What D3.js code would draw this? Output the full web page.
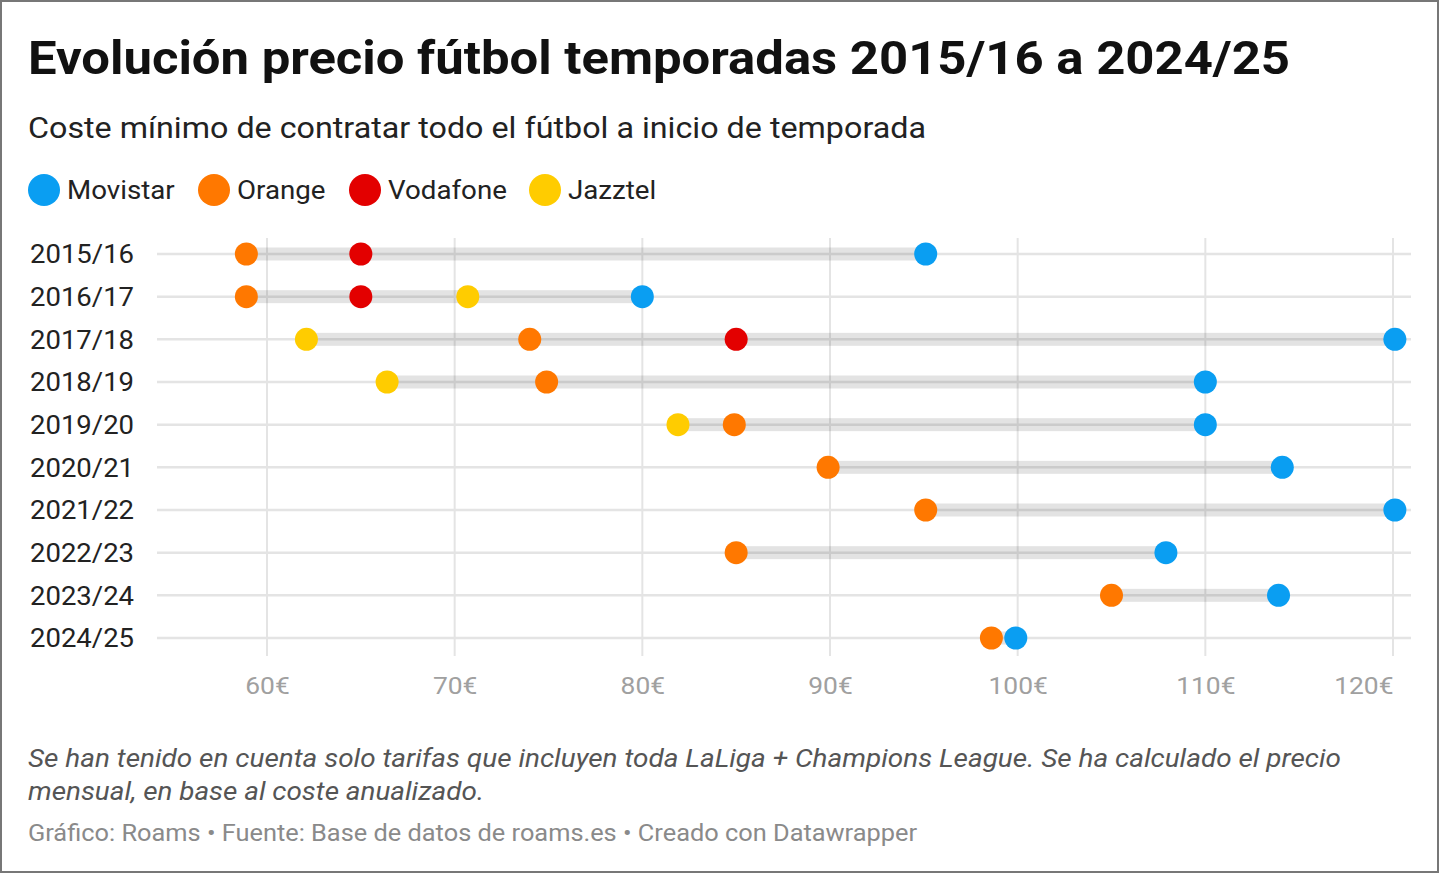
<!DOCTYPE html>
<html><head><meta charset="utf-8">
<script src="https://cdn.jsdelivr.net/npm/d3@7"></script>
<style>
html,body{margin:0;padding:0;background:#fff;}
svg{display:block;font-family:Roboto,"Noto Sans",sans-serif;}
</style></head>
<body>
<svg id="chart" width="1440" height="873"></svg>
<script>
const seasons = ["2015/16","2016/17","2017/18","2018/19","2019/20","2020/21","2021/22","2022/23","2023/24","2024/25"];
const movistar = [95.1, 80.0, 120.1, 110.0, 110.0, 114.1, 120.1, 107.9, 113.9, 99.9];
const orange   = [58.9, 58.9, 74.0, 74.9, 84.9, 89.9, 95.1, 85.0, 105.0, 98.6];
const vodafone = [65.0, 65.0, 85.0, null, null, null, null, null, null, null];
const jazztel  = [null, 70.7, 62.1, 66.4, 81.9, null, null, null, null, null];
const seriesNames = ["Movistar","Orange","Vodafone","Jazztel"];
const seriesColors = ["#0a9ef2","#ff7800","#e30000","#ffcc00"];
const xTicks = [60,70,80,90,100,110,120];

const seriesData = [movistar, orange, vodafone, jazztel];
const svg = d3.select("#chart");

function stretch(sel, f){
  sel.each(function(){
    const w = this.getComputedTextLength();
    d3.select(this).attr("textLength", w*f).attr("lengthAdjust","spacingAndGlyphs");
  });
  return sel;
}
function fit(sel, width){
  return sel.attr("textLength", width).attr("lengthAdjust","spacingAndGlyphs");
}

// border
svg.append("rect").attr("x",1).attr("y",1).attr("width",1437).attr("height",871)
  .attr("fill","none").attr("stroke","#777").attr("stroke-width",2);

fit(svg.append("text").attr("x",28).attr("y",74).attr("font-size",46).attr("font-weight",700)
  .attr("fill","#111").text("Evolución precio fútbol temporadas 2015/16 a 2024/25"), 1262);
fit(svg.append("text").attr("x",28).attr("y",138).attr("font-size",30)
  .attr("fill","#222").text("Coste mínimo de contratar todo el fútbol a inicio de temporada"), 898);

// legend
const legendX = [44, 214, 365, 545];
const lg = svg.append("g");
seriesNames.forEach((n,i)=>{
  lg.append("circle").attr("cx",legendX[i]).attr("cy",190).attr("r",16).attr("fill",seriesColors[i]);
  stretch(lg.append("text").attr("x",legendX[i]+23).attr("y",199).attr("font-size",26).attr("fill","#222").text(n), 1.065);
});

const x = d3.scaleLinear().domain([60,120]).range([267,1393]);
const y = d3.scalePoint().domain(seasons).range([254,638]);

// vertical grid
svg.append("g").selectAll("line").data(xTicks).join("line")
  .attr("x1",d=>x(d)).attr("x2",d=>x(d)).attr("y1",238).attr("y2",656)
  .attr("stroke","#e4e4e4").attr("stroke-width",2);
// horizontal grid
svg.append("g").selectAll("line").data(seasons).join("line")
  .attr("x1",157).attr("x2",1411).attr("y1",d=>y(d)).attr("y2",d=>y(d))
  .attr("stroke","#e4e4e4").attr("stroke-width",2.5);

// x axis labels
const xAxis = d3.axisBottom(x).tickValues(xTicks).tickFormat(d=>d+"€").tickSize(0).tickPadding(0);
const ax = svg.append("g").attr("transform","translate(0,694)").call(xAxis);
ax.select(".domain").remove();
ax.selectAll("text").attr("font-size",24).attr("fill","#a0a0a0").attr("font-family","Roboto").attr("dy",0);
ax.selectAll(".tick").filter(d=>d===120).select("text").attr("text-anchor","end");
stretch(ax.selectAll("text"), 1.1);

// y labels
const yAxis = d3.axisLeft(y).tickSize(0).tickPadding(0);
const ay = svg.append("g").attr("transform","translate(30,0)").call(yAxis);
ay.select(".domain").remove();
ay.selectAll("text").attr("text-anchor","start").attr("font-size",25).attr("fill","#222")
  .attr("font-family","Roboto").attr("dy","0.35em");
stretch(ay.selectAll("text"), 1.1);

// range bars
const rows = seasons.map((s,i)=>{
  const vals = seriesData.map(a=>a[i]).filter(v=>v!=null);
  return {s, min:d3.min(vals), max:d3.max(vals)};
});
svg.append("g").selectAll("rect").data(rows).join("rect")
  .attr("x",d=>x(d.min)).attr("width",d=>x(d.max)-x(d.min))
  .attr("y",d=>y(d.s)-6.5).attr("height",13).attr("fill","rgba(0,0,0,0.11)");

// dots
const dots = [];
seriesData.forEach((arr,k)=>arr.forEach((v,i)=>{ if(v!=null) dots.push({s:seasons[i],v,k}); }));
svg.append("g").selectAll("circle").data(dots).join("circle")
  .attr("cx",d=>x(d.v)).attr("cy",d=>y(d.s)).attr("r",11.5)
  .attr("fill",d=>seriesColors[d.k]);

// notes
fit(svg.append("text").attr("x",28).attr("y",767).attr("font-size",25).attr("font-style","italic")
  .attr("fill","#555").text("Se han tenido en cuenta solo tarifas que incluyen toda LaLiga + Champions League. Se ha calculado el precio"), 1313);
fit(svg.append("text").attr("x",28).attr("y",800).attr("font-size",25).attr("font-style","italic")
  .attr("fill","#555").text("mensual, en base al coste anualizado."), 456);
fit(svg.append("text").attr("x",28).attr("y",841).attr("font-size",23)
  .attr("fill","#8a8a8a").text("Gráfico: Roams • Fuente: Base de datos de roams.es • Creado con Datawrapper"), 889);
</script>
</body></html>
